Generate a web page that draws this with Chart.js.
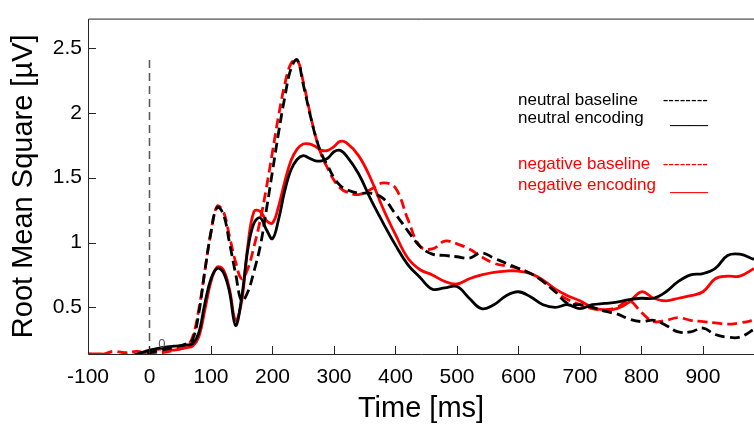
<!DOCTYPE html>
<html>
<head>
<meta charset="utf-8">
<script src="https://cdn.jsdelivr.net/npm/chart.js@4/dist/chart.umd.min.js"></script>
<style>
  html, body { margin: 0; padding: 0; background: #fff; }
  canvas { display: block; }
</style>
</head>
<body>
<canvas id="c" width="754" height="426"></canvas>
<script>
// ---- data ----
const timeMs = [-100,-80,-60,-40,-20,0,20,40,60,70,80,90,100,110,120,130,140,150,160,170,180,190,200,210,220,230,240,250,260,270,280,290,300,310,320,340,360,380,400,420,440,460,480,500,520,540,560,580,600,620,640,660,680,700,720,740,760,780,800,820,840,860,880,900,920,940,960,983];

const neutralBaseline = [0.13,0.12,0.13,0.12,0.13,0.15,0.17,0.19,0.22,0.25,0.45,0.78,1.08,1.27,1.22,1.00,0.76,0.55,0.62,0.78,0.97,1.25,1.55,1.85,2.12,2.34,2.41,2.22,2.01,1.82,1.68,1.59,1.50,1.44,1.41,1.38,1.38,1.34,1.22,1.09,0.97,0.91,0.90,0.89,0.88,0.92,0.88,0.84,0.80,0.76,0.70,0.62,0.53,0.52,0.50,0.47,0.45,0.41,0.39,0.40,0.36,0.31,0.31,0.34,0.29,0.27,0.27,0.33];

const neutralEncoding = [0.12,0.11,0.12,0.12,0.14,0.17,0.19,0.20,0.21,0.22,0.30,0.53,0.72,0.80,0.77,0.62,0.36,0.58,0.95,1.15,1.19,1.10,1.03,1.18,1.40,1.56,1.64,1.67,1.65,1.63,1.63,1.65,1.70,1.71,1.67,1.53,1.33,1.15,0.98,0.83,0.73,0.64,0.65,0.66,0.57,0.49,0.52,0.59,0.62,0.58,0.52,0.50,0.52,0.49,0.52,0.53,0.54,0.56,0.57,0.57,0.62,0.70,0.75,0.76,0.80,0.90,0.91,0.87];

const negativeBaseline = [0.14,0.13,0.16,0.15,0.16,0.14,0.15,0.17,0.20,0.27,0.48,0.78,1.08,1.28,1.24,1.05,0.85,0.72,0.80,0.97,1.17,1.42,1.70,1.98,2.22,2.38,2.41,2.24,2.02,1.82,1.67,1.57,1.48,1.42,1.39,1.37,1.41,1.46,1.42,1.18,0.97,0.95,1.01,0.99,0.95,0.89,0.84,0.82,0.80,0.76,0.70,0.62,0.56,0.52,0.49,0.48,0.50,0.55,0.46,0.39,0.40,0.42,0.40,0.39,0.38,0.37,0.38,0.40];

const negativeEncoding = [0.14,0.14,0.13,0.12,0.13,0.16,0.18,0.17,0.19,0.20,0.27,0.48,0.70,0.81,0.79,0.64,0.40,0.55,0.98,1.24,1.24,1.17,1.15,1.28,1.47,1.63,1.72,1.76,1.76,1.74,1.71,1.71,1.74,1.78,1.77,1.67,1.49,1.26,1.06,0.88,0.79,0.75,0.70,0.68,0.72,0.75,0.77,0.78,0.78,0.76,0.71,0.64,0.59,0.55,0.50,0.48,0.49,0.54,0.62,0.57,0.55,0.57,0.59,0.62,0.72,0.74,0.74,0.80];

const stimulusLine = { x: [0, 0], y: [0.14, 2.42] };
const xTicks = [-100, 0, 100, 200, 300, 400, 500, 600, 700, 800, 900];
const yTicks = [0.5, 1, 1.5, 2, 2.5];
const legendLabels = ['neutral baseline', 'neutral encoding', 'negative baseline', 'negative encoding'];
const zeroNote = { x: 20, y: 0.215, text: '0' };

// ---- build ----
const pts = ys => timeMs.map((t, i) => ({ x: t, y: ys[i] }));
const FONT = "'Liberation Sans', Arial, Helvetica, sans-serif";
Chart.defaults.font.family = FONT;
Chart.defaults.color = '#000';

const boxPlugin = {
  id: 'matlabBox',
  afterDraw(chart) {
    const { ctx, chartArea: a, scales: { x, y } } = chart;
    ctx.save();
    ctx.strokeStyle = '#262626';
    ctx.lineWidth = 1;
    ctx.beginPath();
    ctx.moveTo(a.right + 1, a.top + 0.5);
    ctx.lineTo(a.left + 0.5, a.top + 0.5);
    ctx.lineTo(a.left + 0.5, a.bottom + 0.5);
    ctx.lineTo(a.right + 1, a.bottom + 0.5);
    // inward ticks
    xTicks.forEach(v => {
      const px = Math.round(x.getPixelForValue(v)) + 0.5;
      ctx.moveTo(px, a.bottom);
      ctx.lineTo(px, a.bottom - 8);
    });
    yTicks.forEach(v => {
      const py = Math.round(y.getPixelForValue(v)) + 0.5;
      ctx.moveTo(a.left, py);
      ctx.lineTo(a.left + 8, py);
    });
    ctx.stroke();

    // small "0" annotation
    ctx.fillStyle = '#555';
    ctx.font = '13px ' + FONT;
    ctx.textAlign = 'center';
    ctx.textBaseline = 'middle';
    ctx.fillText(zeroNote.text, x.getPixelForValue(zeroNote.x), y.getPixelForValue(zeroNote.y));

    // text legend
    ctx.font = '17px ' + FONT;
    ctx.textBaseline = 'alphabetic';
    const rows = [
      { label: legendLabels[0], color: '#000', sample: '--------', base: 105 },
      { label: legendLabels[1], color: '#000', sample: '____', base: 123 },
      { label: legendLabels[2], color: '#ff0000', sample: '--------', base: 169 },
      { label: legendLabels[3], color: '#ff0000', sample: '____', base: 190 }
    ];
    rows.forEach(r => {
      ctx.fillStyle = r.color;
      ctx.textAlign = 'left';
      ctx.fillText(r.label, 518, r.base);
      ctx.textAlign = 'right';
      ctx.fillText(r.sample, 708, r.base);
    });
    ctx.restore();
  }
};

const line = (data, color, dashed, width) => ({
  data, borderColor: color, backgroundColor: color, borderWidth: width,
  borderDash: dashed ? [10, 5] : [], pointRadius: 0, tension: 0.4, fill: false
});

new Chart(document.getElementById('c'), {
  type: 'line',
  data: {
    datasets: [
      line(pts(neutralEncoding), '#000000', false, 2.8),
      line(pts(neutralBaseline), '#000000', true, 2.8),
      line(pts(negativeEncoding), '#ff0000', false, 2.8),
      line(pts(negativeBaseline), '#ff0000', true, 2.8),
      {
        data: stimulusLine.x.map((v, i) => ({ x: v, y: stimulusLine.y[i] })),
        borderColor: '#5a5a5a', borderWidth: 1.6, borderDash: [8, 5], pointRadius: 0, tension: 0
      }
    ]
  },
  options: {
    responsive: false,
    animation: false,
    layout: { padding: { top: 12, left: 0, right: 0, bottom: 0 } },
    plugins: { legend: { display: false }, tooltip: { enabled: false } },
    scales: {
      x: {
        type: 'linear', min: -100, max: 983,
        grid: { display: false, drawTicks: false },
        border: { display: false },
        ticks: { stepSize: 100, includeBounds: false, autoSkip: false, maxRotation: 0,
                 padding: 11, color: '#000', font: { size: 21 },
                 callback: v => String(v) },
        title: { display: true, text: 'Time [ms]', color: '#000',
                 font: { size: 29, lineHeight: 1.2 }, padding: { top: 0, bottom: 0 } },
        afterFit(s) { s.height = 72; }
      },
      y: {
        type: 'linear', min: 0.14, max: 2.727,
        grid: { display: false, drawTicks: false },
        border: { display: false },
        ticks: { stepSize: 0.5, includeBounds: false, padding: 6, color: '#000', font: { size: 21 },
                 callback: v => String(Math.round(v * 10) / 10) },
        title: { display: true, text: 'Root Mean Square [µV]', color: '#000',
                 font: { size: 29, lineHeight: 1.2 }, padding: { top: 7, bottom: 0 } },
        afterFit(s) { s.width = 88; }
      }
    }
  },
  plugins: [boxPlugin]
});
</script>
</body>
</html>
